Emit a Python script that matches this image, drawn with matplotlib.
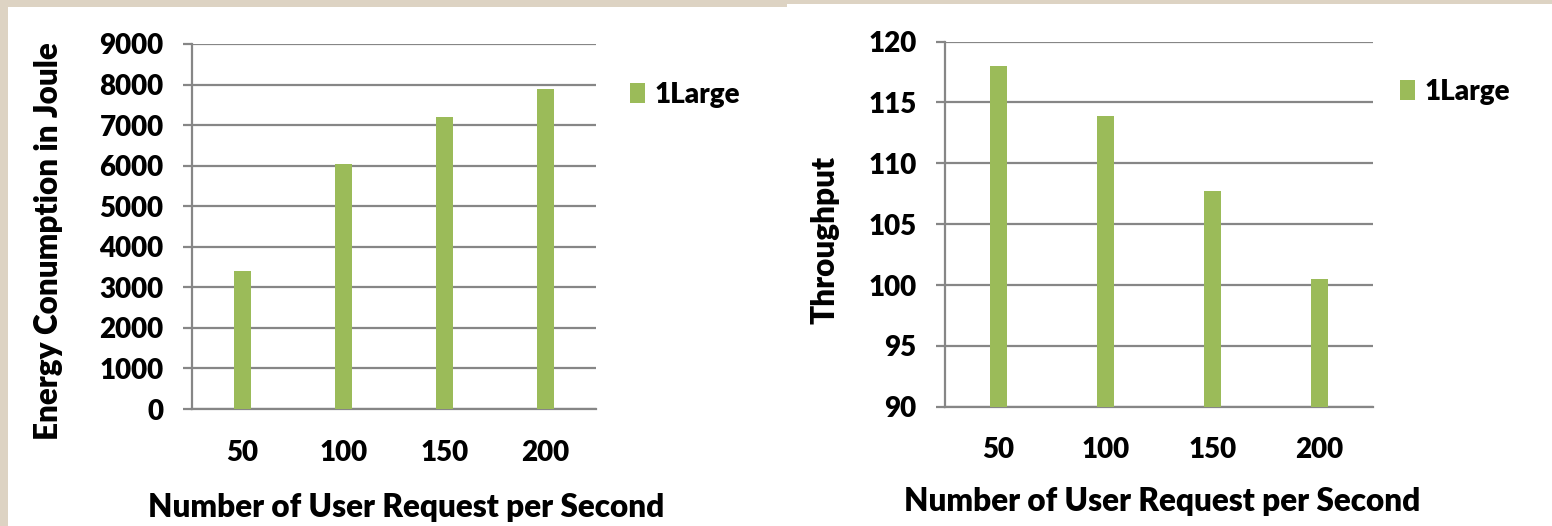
import matplotlib
matplotlib.use("Agg")
import matplotlib.pyplot as plt
from matplotlib.patches import Rectangle

# Data
request_rates = ["50", "100", "150", "200"]
energy_joule = [3400, 6030, 7200, 7900]
throughput = [118.0, 113.9, 107.7, 100.5]
series_name = "1Large"

energy_ticks = [0, 1000, 2000, 3000, 4000, 5000, 6000, 7000, 8000, 9000]
throughput_ticks = [90, 95, 100, 105, 110, 115, 120]

BAR_COLOR = "#9BBB59"
GRID_COLOR = "#868686"
PAGE_COLOR = "#DDD3C3"
WEIGHT = "heavy"

plt.rcParams["font.family"] = ["Lato", "DejaVu Sans"]
plt.rcParams["font.weight"] = WEIGHT

W, H = 1552, 526
fig = plt.figure(figsize=(W / 100, H / 100), dpi=100)
fig.patch.set_facecolor(PAGE_COLOR)


def px_rect(x0, y0, x1, y1):
    """Pixel box (top-left origin) -> figure fraction [left, bottom, width, height]."""
    return [x0 / W, 1 - y1 / H, (x1 - x0) / W, (y1 - y0) / H]


# White slide panels behind each chart
for (x0, y0, x1, y1) in [(8, 7, 787, 526), (787, 4, 1552, 526)]:
    l, b, w, h = px_rect(x0, y0, x1, y1)
    fig.patches.append(Rectangle((l, b), w, h, transform=fig.transFigure,
                                 facecolor="white", edgecolor="none", zorder=-10))


def draw_panel(rect, values, ticks, ylabel, ylabel_xy, xlabel_xy, legend_xy):
    ax = fig.add_axes(px_rect(*rect))
    ax.set_facecolor("none")
    x = range(len(request_rates))
    bars = ax.bar(x, values, width=0.16, color=BAR_COLOR, zorder=3, label=series_name)
    ax.set_xlim(-0.5, len(request_rates) - 0.5)
    ax.set_ylim(ticks[0], ticks[-1])
    ax.set_yticks(ticks)
    ax.set_xticks(list(x))
    ax.set_xticklabels(request_rates)
    ax.yaxis.grid(True, color=GRID_COLOR, linewidth=1.6, zorder=1)
    ax.set_axisbelow(True)
    for side in ("top", "right"):
        ax.spines[side].set_visible(False)
    for side in ("left", "bottom"):
        ax.spines[side].set_color(GRID_COLOR)
        ax.spines[side].set_linewidth(1.6)
    ax.tick_params(axis="y", length=6.5, width=1.6, color=GRID_COLOR,
                   pad=14, labelsize=20)
    ax.tick_params(axis="x", length=0, pad=22, labelsize=20)
    for lab in ax.get_xticklabels() + ax.get_yticklabels():
        lab.set_fontweight(WEIGHT)

    fig.text(ylabel_xy[0] / W, 1 - ylabel_xy[1] / H, ylabel, rotation=90,
             ha="center", va="center", fontsize=22.7, fontweight=WEIGHT)
    fig.text(xlabel_xy[0] / W, 1 - xlabel_xy[1] / H,
             "Number of User Request per Second",
             ha="center", va="center", fontsize=22.7, fontweight=WEIGHT)
    fig.legend(handles=[bars], labels=[series_name], loc="center left",
               bbox_to_anchor=(legend_xy[0] / W, 1 - legend_xy[1] / H),
               frameon=False, handlelength=0.55, handleheight=0.75,
               handletextpad=0.35, borderpad=0, borderaxespad=0,
               prop={"weight": WEIGHT, "size": 20})
    return ax


draw_panel((192, 44, 596, 409), energy_joule, energy_ticks,
           "Energy Conumption in Joule", (49, 241), (406, 507), (630, 95))
draw_panel((945, 41.6, 1373, 406.7), throughput, throughput_ticks,
           "Throughput", (825, 240), (1162, 501), (1400, 92))

fig.savefig("out.png", dpi=100, facecolor=fig.get_facecolor())
